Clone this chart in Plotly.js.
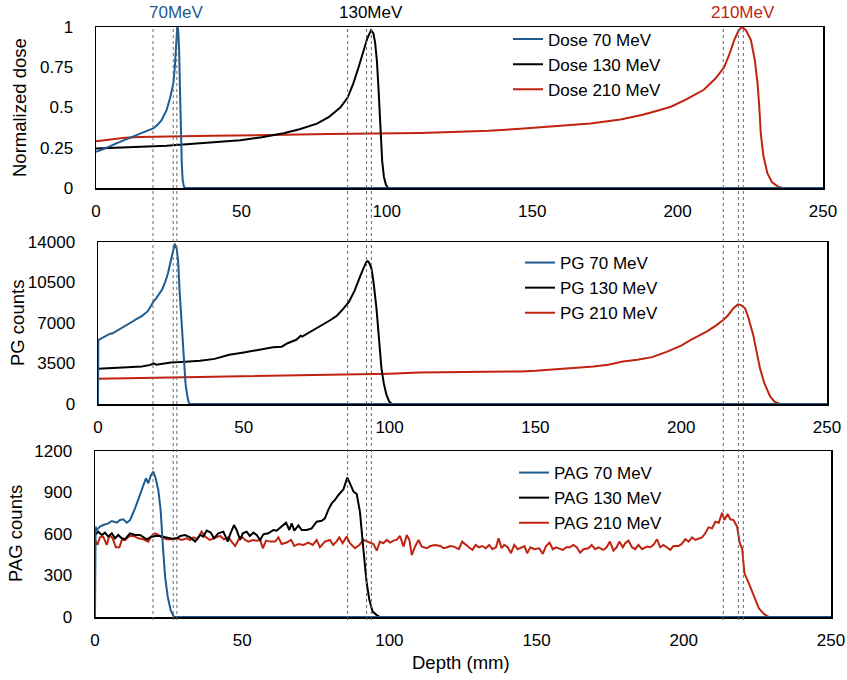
<!DOCTYPE html>
<html>
<head>
<meta charset="utf-8">
<script src="https://cdn.plot.ly/plotly-3.0.1.min.js"></script>
<style>
  body { margin: 0; background: #fff; }
  #plot { width: 847px; height: 680px; }
</style>
</head>
<body>
<div id="plot"></div>
<script>
// colours of the three beam energies
const BLUE = '#1f5b8e';
const RED = '#c0230f';
const BLACK = '#000000';

const energies = ['70 MeV', '130 MeV', '210 MeV'];
const energyLabels = ['70MeV', '130MeV', '210MeV'];

// peak depths (mm) marked by the dotted lines, one set per panel
const dosePeaks = [27.8, 94.7, 222.6];
const pgPeaks = [25.8, 92.1, 219.6];
const pagPeaks = [19.7, 85.8, 213.4];

// ---- normalized dose ----
const dose70X = [0, 3, 7, 10, 12.8, 15, 17.5, 19.7, 21, 22.5, 24.3, 25.5, 26.6, 27.1, 27.4, 27.7, 28, 28.3, 28.6, 28.9, 29.2, 29.5, 29.8, 30.2, 30.6, 250];
const dose70Y = [0.225, 0.245, 0.277, 0.30, 0.32, 0.34, 0.355, 0.37, 0.39, 0.42, 0.485, 0.56, 0.65, 0.75, 0.855, 0.95, 1.02, 0.97, 0.85, 0.6, 0.34, 0.15, 0.05, 0.01, 0, 0];

const dose130X = [0, 10, 20, 24.3, 30, 40, 49.6, 57, 64.5, 70, 76, 80, 84, 86.5, 88.5, 90.3, 92, 93.3, 94.6, 95.4, 96, 96.6, 97.2, 97.8, 98.4, 99, 99.7, 100.5, 103, 108, 115, 120, 250];
const dose130Y = [0.245, 0.252, 0.258, 0.262, 0.27, 0.282, 0.297, 0.315, 0.34, 0.365, 0.40, 0.44, 0.50, 0.56, 0.65, 0.75, 0.855, 0.93, 0.98, 0.96, 0.9, 0.79, 0.6, 0.34, 0.17, 0.07, 0.02, 0, -0.008, -0.015, -0.008, 0, 0];

const dose210X = [0, 5, 10, 15, 20, 30, 40, 50, 60, 70, 80, 90, 100, 111.6, 125, 135, 146, 160, 170, 180.4, 188, 193, 197.7, 203, 209, 213, 216, 218, 219.5, 221, 222.1, 223.5, 225.2, 226.5, 227.5, 228.1, 228.6, 229.5, 230.9, 232.5, 234.4, 236, 240, 245, 250];
const dose210Y = [0.29, 0.302, 0.312, 0.317, 0.32, 0.322, 0.324, 0.328, 0.33, 0.332, 0.335, 0.337, 0.339, 0.342, 0.35, 0.355, 0.368, 0.385, 0.4, 0.425, 0.455, 0.48, 0.505, 0.55, 0.61, 0.68, 0.75, 0.84, 0.92, 0.98, 1.0, 0.98, 0.92, 0.8, 0.65, 0.5, 0.34, 0.2, 0.09, 0.035, 0.01, 0, -0.01, -0.005, 0];

// ---- prompt gamma counts ----
const pg70X = [0, 0.1, 1, 2, 3, 4, 5, 6, 7, 8, 9, 10, 11, 12, 13, 14, 15, 16, 17, 18, 19, 20, 21, 22, 23, 24, 25, 25.8, 26.3, 27, 27.5, 28, 28.5, 29, 29.5, 30, 30.5, 31, 31.5, 250];
const pg70Y = [0, 5530, 5650, 5800, 5950, 6050, 6110, 6250, 6420, 6560, 6700, 6880, 7000, 7150, 7320, 7450, 7600, 7800, 8000, 8400, 8850, 9150, 9500, 9900, 10500, 11300, 12400, 13300, 13850, 13400, 12300, 9700, 7500, 5200, 3200, 1800, 900, 200, 0, 0];

const pg130X = [0, 5, 10, 15, 18, 19, 20, 25, 30, 35, 40, 45, 50, 55, 60, 63, 65, 68, 69.5, 70, 72, 75, 78, 80, 82, 84, 86, 88, 89, 90, 91, 92, 92.5, 93, 93.8, 94.5, 95.5, 96.3, 97.2, 98, 98.9, 99.8, 100.7, 250];
const pg130Y = [3040, 3100, 3150, 3250, 3380, 3520, 3400, 3580, 3650, 3730, 3900, 4250, 4450, 4700, 4900, 4950, 5250, 5550, 5900, 5820, 6100, 6540, 7000, 7300, 7650, 8200, 8800, 9800, 10500, 11100, 11700, 12250, 12350, 12200, 11700, 10500, 8270, 5800, 3100, 1800, 800, 250, 0, 0];

const pg210X = [0, 5, 10, 15, 20, 25, 30, 35, 40, 50, 60, 70, 80, 90, 100, 110, 120, 130, 140, 145, 150, 155, 160, 165, 170, 175, 180, 185, 190, 195, 200, 203, 206, 209, 212, 214.4, 216, 218, 219.5, 220.5, 221.9, 223, 224.7, 226, 227, 228.5, 230.5, 232, 233.9, 250];
const pg210Y = [2180, 2200, 2250, 2280, 2320, 2330, 2350, 2380, 2370, 2420, 2440, 2480, 2520, 2560, 2620, 2720, 2740, 2790, 2800, 2810, 2870, 2950, 3050, 3150, 3250, 3400, 3670, 3820, 4050, 4500, 5050, 5500, 5900, 6300, 6800, 7260, 7650, 8300, 8610, 8550, 8270, 7500, 5970, 4300, 3100, 1800, 650, 200, 0, 0];

// ---- prompt annihilation gamma counts ----
const pag70X = [0, 0.2, 0.6, 1.7, 2.8, 4.5, 5.7, 7.4, 8.5, 9.6, 10.8, 11.9, 13.6, 15.1, 16.4, 17.3, 18.1, 18.9, 19.8, 20.6, 21.5, 22.3, 23, 23.8, 24.7, 25.7, 26.8, 250];
const pag70Y = [0, 653, 629, 653, 665, 677, 694, 682, 701, 706, 682, 701, 786, 870, 942, 1003, 967, 1019, 1051, 1003, 918, 773, 532, 291, 147, 50, 0, 0];

const pag130X = [0, 1.1, 2.3, 3.4, 4.5, 5.7, 6.8, 7.9, 9.1, 10.2, 11.9, 13.6, 15.3, 16.4, 17.6, 18.7, 20.4, 22.1, 24.4, 26.1, 27.8, 29, 30.6, 32.3, 34, 35.7, 36.8, 37.9, 39.3, 40.4, 41.9, 43.6, 45.1, 45.9, 47.2, 48.1, 49.3, 50.2, 51.5, 52.6, 53.8, 54.9, 56.1, 57.2, 58.9, 60.6, 61.7, 63.4, 64.9, 66, 66.8, 67.7, 69.1, 70.2, 71.9, 73.6, 75.3, 77, 78.1, 79.2, 80.4, 81.5, 82.7, 84.4, 85.7, 86.6, 87.8, 88.9, 90, 91.2, 92.3, 93.2, 94.3, 95.7, 96.8, 250];
const pag130Y = [593, 617, 593, 610, 581, 605, 569, 593, 569, 562, 605, 593, 593, 576, 562, 576, 586, 586, 576, 566, 569, 586, 593, 576, 545, 593, 581, 624, 610, 569, 605, 617, 545, 598, 665, 629, 557, 605, 617, 586, 610, 593, 557, 598, 605, 629, 624, 653, 682, 629, 677, 624, 662, 629, 629, 641, 689, 696, 713, 773, 821, 846, 882, 923, 1008, 966, 906, 889, 760, 480, 244, 123, 39, 14, 0, 0];

const pag210X = [0, 0.8, 1.7, 2.8, 4, 4.9, 6, 7.1, 8.3, 9.1, 10.2, 11.7, 13, 14.7, 16.4, 18.1, 19.2, 20.4, 21.5, 22.6, 24.4, 26.1, 27.8, 29.5, 31.2, 32.3, 33.4, 34.8, 36.2, 37.4, 39, 40.8, 42.5, 43.8, 45.3, 46.4, 47.6, 48.7, 49.8, 51, 52.1, 53.6, 54.9, 56.1, 57, 58.1, 59.5, 61.2, 62.3, 63.4, 65.1, 66.6, 67.7, 69.1, 70.8, 72.5, 74, 75.3, 76.4, 78.1, 79.8, 80.9, 82, 83, 84.1, 85.5, 86.6, 88.3, 89.8, 91.2, 92.9, 94.6, 95.7, 96.8, 97.9, 99.1, 100.2, 101.4, 102.5, 103.6, 104.8, 105.9, 106.8, 107.6, 108.7, 109.9, 111, 112.7, 113.9, 115.5, 117.3, 118.4, 119.6, 120.7, 121.9, 123.6, 124.7, 125.9, 127, 128.2, 129.3, 130.4, 131.6, 132.7, 133.9, 135, 136.2, 137.1, 138.1, 139, 140.2, 141.3, 142.4, 143.6, 144.7, 145.9, 146.8, 147.9, 149.2, 150.9, 152.1, 153.2, 154.4, 155.5, 156.6, 157.8, 158.9, 160.1, 161.3, 162.5, 163.6, 164.8, 165.9, 167.6, 168.7, 169.9, 171, 172.7, 173.8, 174.9, 176.1, 177.2, 178.1, 179.3, 180.1, 181.2, 182.4, 183.5, 184.6, 185.8, 187.5, 188.6, 189.7, 190.9, 192, 193.1, 194.3, 195.4, 196.5, 198.2, 199.3, 200.5, 201.6, 202.8, 203.9, 205, 206.2, 207.3, 208.4, 209.6, 210.7, 211.9, 213, 213.8, 214.9, 215.8, 216.9, 218.1, 219, 219.8, 220.6, 222.1, 223.8, 225.5, 227.2, 228.9, 250];
const pag210Y = [557, 521, 576, 581, 521, 593, 569, 504, 504, 557, 557, 586, 586, 569, 562, 545, 586, 605, 593, 576, 562, 562, 569, 557, 569, 557, 576, 562, 617, 581, 557, 569, 586, 562, 576, 545, 513, 557, 581, 557, 545, 557, 552, 557, 497, 552, 545, 545, 576, 528, 538, 557, 513, 528, 521, 538, 521, 557, 504, 545, 557, 521, 545, 576, 533, 581, 533, 497, 521, 557, 545, 528, 480, 545, 533, 557, 538, 552, 557, 586, 509, 593, 557, 448, 509, 557, 509, 497, 513, 521, 513, 497, 504, 513, 509, 490, 545, 521, 504, 485, 521, 504, 513, 497, 521, 490, 504, 569, 497, 521, 504, 461, 521, 490, 504, 513, 461, 504, 490, 497, 456, 513, 538, 490, 504, 497, 485, 504, 504, 521, 504, 465, 490, 497, 521, 490, 504, 485, 504, 545, 480, 504, 545, 504, 533, 552, 504, 490, 521, 490, 509, 504, 521, 562, 504, 521, 504, 485, 513, 513, 528, 562, 545, 576, 557, 569, 576, 605, 648, 641, 689, 682, 754, 701, 744, 706, 701, 653, 533, 497, 316, 243, 147, 63, 22, 0, 0];

const doseTickVals = [0, 0.25, 0.5, 0.75, 1];
const doseTickText = ['0', '0.25', '0.5', '0.75', '1'];
const pgTickVals = [0, 3500, 7000, 10500, 14000];
const pgTickText = ['0', '3500', '7000', '10500', '14000'];
const pagTickVals = [0, 300, 600, 900, 1200];
const pagTickText = ['0', '300', '600', '900', '1200'];
const depthTicks = [0, 50, 100, 150, 200, 250];

const FONT = 'Liberation Sans, Arial, Helvetica, sans-serif';
const W = 847, H = 680;

// panel frames in pixels [left, right, top, bottom]
const frames = [
    [96, 823, 27, 188],
    [98, 827, 242, 404],
    [95, 831, 451, 617]
];

function xAxis(f, anchor) {
    return {
        domain: [f[0] / W, f[1] / W], range: [0, 250], anchor: anchor,
        tickvals: depthTicks, ticks: '', showgrid: false, zeroline: false,
        showline: true, mirror: true, linecolor: '#000', linewidth: 1.5,
        ticklabelstandoff: 7,
        tickfont: {family: FONT, size: 17, color: '#000'}
    };
}
function yAxis(f, range, vals, text, anchor) {
    return {
        domain: [1 - f[3] / H, 1 - f[2] / H], range: range, anchor: anchor,
        tickvals: vals, ticktext: text, ticks: '', showgrid: false, zeroline: false,
        showline: true, mirror: true, linecolor: '#000', linewidth: 1.5,
        ticklabelstandoff: 18,
        tickfont: {family: FONT, size: 17, color: '#000'}
    };
}

const colors = [BLUE, BLACK, RED];
const panels = [
    {name: 'Dose', xs: [dose70X, dose130X, dose210X], ys: [dose70Y, dose130Y, dose210Y], xa: 'x', ya: 'y', lg: 'legend'},
    {name: 'PG', xs: [pg70X, pg130X, pg210X], ys: [pg70Y, pg130Y, pg210Y], xa: 'x2', ya: 'y2', lg: 'legend2'},
    {name: 'PAG', xs: [pag70X, pag130X, pag210X], ys: [pag70Y, pag130Y, pag210Y], xa: 'x3', ya: 'y3', lg: 'legend3'}
];

const data = [];
panels.forEach(p => {
    // red first, blue last so blue sits on top
    for (let i = 2; i >= 0; i--) {
        data.push({
            x: p.xs[i], y: p.ys[i], type: 'scatter', mode: 'lines',
            name: p.name + ' ' + energies[i],
            line: {color: colors[i], width: 2},
            xaxis: p.xa, yaxis: p.ya, legend: p.lg
        });
    }
});

// dotted peak markers spanning all panels
const shapes = [];
[[dosePeaks, 'x'], [pgPeaks, 'x2'], [pagPeaks, 'x3']].forEach(([peaks, xr]) => {
    peaks.forEach(d => {
        shapes.push({type: 'line', xref: xr, yref: 'paper', x0: d, x1: d,
            y0: 1 - 620 / H, y1: 1 - 27 / H,
            line: {color: '#666', width: 1, dash: 'dot'}});
    });
});

const annotations = [];
dosePeaks.forEach((d, i) => {
    annotations.push({x: d, xref: 'x', y: 1 - 12 / H, yref: 'paper', yanchor: 'middle', xanchor: 'center',
        text: energyLabels[i], showarrow: false, font: {family: FONT, size: 17, color: colors[i]}});
});
const yTitles = [['Normalized dose', 19, 108], ['PG counts', 17, 323], ['PAG counts', 15, 534]];
yTitles.forEach(t => {
    annotations.push({x: t[1] / W, xref: 'paper', y: 1 - t[2] / H, yref: 'paper',
        xanchor: 'center', yanchor: 'middle', text: t[0],
        textangle: -90, showarrow: false, font: {family: FONT, size: 18.5, color: '#000'}});
});
annotations.push({x: 461 / W, xref: 'paper', y: 1 - 662 / H, yref: 'paper',
    xanchor: 'center', yanchor: 'middle', text: 'Depth (mm)',
    showarrow: false, font: {family: FONT, size: 18.5, color: '#000'}});

function legendAt(px, py) {
    return {x: px / W, y: 1 - py / H, xanchor: 'left', yanchor: 'top', traceorder: 'reversed',
        bgcolor: 'rgba(0,0,0,0)', font: {family: FONT, size: 17, color: '#000'}};
}

const layout = {
    width: W, height: H,
    margin: {l: 0, r: 0, t: 0, b: 0},
    paper_bgcolor: '#fff', plot_bgcolor: '#fff',
    showlegend: true,
    xaxis: xAxis(frames[0], 'y'),
    yaxis: yAxis(frames[0], [0, 1], doseTickVals, doseTickText, 'x'),
    xaxis2: xAxis(frames[1], 'y2'),
    yaxis2: yAxis(frames[1], [0, 14000], pgTickVals, pgTickText, 'x2'),
    xaxis3: xAxis(frames[2], 'y3'),
    yaxis3: yAxis(frames[2], [0, 1200], pagTickVals, pagTickText, 'x3'),
    legend: legendAt(508, 21.5),
    legend2: legendAt(520, 245),
    legend3: legendAt(514, 455),
    shapes: shapes,
    annotations: annotations
};

Plotly.newPlot('plot', data, layout, {staticPlot: true});
</script>
</body>
</html>
